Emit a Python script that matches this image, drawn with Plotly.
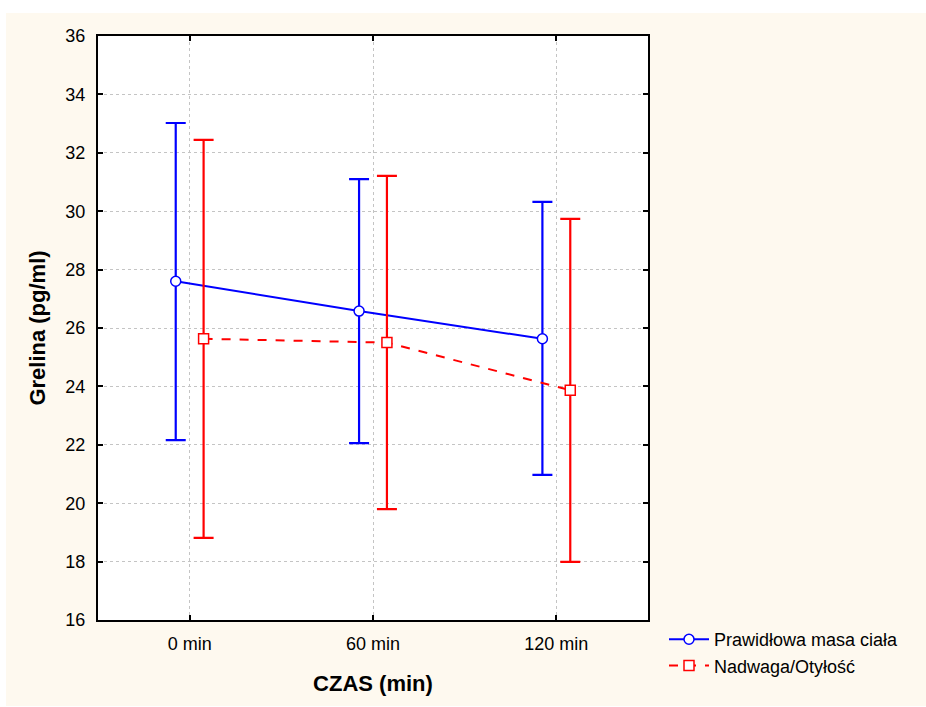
import plotly.graph_objects as go

categories = ["0 min", "60 min", "120 min"]
series_names = ["Prawidłowa masa ciała", "Nadwaga/Otyłość"]
blue_mean = [27.6, 26.58, 25.63]
blue_upper = [33.02, 31.1, 30.32]
blue_lower = [22.16, 22.06, 20.97]
red_mean = [25.63, 25.5, 23.87]
red_upper = [32.44, 31.21, 29.74]
red_lower = [18.81, 19.8, 17.99]
y_ticks = [16, 18, 20, 22, 24, 26, 28, 30, 32, 34, 36]

W, H = 926, 707
L, R, T, B = 98, 648, 36, 620
pw, ph = R - L, B - T
offset = 0.076
base = list(range(len(categories)))

def px_x(p):
    return (p - L) / pw

def px_y(p):
    return (B - p) / ph

fig = go.Figure()

def add_series(name, mean, upper, lower, color, symbol, dash, dx):
    xs = [b + dx for b in base]
    fig.add_trace(go.Scatter(
        x=xs, y=mean, name=name, mode="lines+markers",
        line=dict(color=color, width=2, dash=dash),
        marker=dict(symbol=symbol, size=10, color="white",
                    line=dict(color=color, width=1.5)),
        error_y=dict(type="data", symmetric=False,
                     array=[u - m for u, m in zip(upper, mean)],
                     arrayminus=[m - l for m, l in zip(mean, lower)],
                     color=color, thickness=2.2, width=10),
    ))

add_series(series_names[0], blue_mean, blue_upper, blue_lower, "#0000FF",
           "circle", "solid", -offset)
add_series(series_names[1], red_mean, red_upper, red_lower, "#FF0000",
           "square", "dash", offset)

cream = "#FEF9EF"
fig.update_layout(
    width=W, height=H,
    margin=dict(l=L, r=W - R, t=T, b=H - B, pad=0),
    paper_bgcolor=cream, plot_bgcolor="white",
    font=dict(family="Liberation Sans, Arial, sans-serif", color="black", size=18),
    showlegend=True,
    legend=dict(x=px_x(664), y=px_y(621), xanchor="left", yanchor="top",
                itemwidth=40,
                bgcolor="rgba(0,0,0,0)", font=dict(size=18), tracegroupgap=0),
    shapes=[
        dict(type="rect", xref="paper", yref="paper", x0=px_x(-5), x1=px_x(W + 5),
             y0=px_y(13), y1=px_y(-5), fillcolor="white", line=dict(width=0), layer="below"),
        dict(type="rect", xref="paper", yref="paper", x0=px_x(-5), x1=px_x(6),
             y0=px_y(H + 5), y1=px_y(-5), fillcolor="white", line=dict(width=0), layer="below"),
        dict(type="rect", xref="paper", yref="paper", x0=px_x(-5), x1=px_x(W + 5),
             y0=px_y(H + 5), y1=px_y(706), fillcolor="white", line=dict(width=0), layer="below"),
    ],
)

fig.update_xaxes(
    range=[-0.5, 2.5], tickmode="array", tickvals=base, ticktext=categories,
    showline=True, linecolor="black", linewidth=2, mirror="ticks",
    ticks="inside", ticklen=5, tickwidth=2, tickcolor="black",
    showgrid=True, gridcolor="#C4C4C4", griddash="3px,3px", gridwidth=1,
    zeroline=False, tickfont=dict(size=18), ticklabelstandoff=6,
    title=dict(text="<b>CZAS (min)</b>", font=dict(size=22), standoff=23),
)
fig.update_yaxes(
    range=[16, 36], tickmode="array", tickvals=y_ticks,
    showline=True, linecolor="black", linewidth=2, mirror="ticks",
    ticks="inside", ticklen=5, tickwidth=2, tickcolor="black",
    showgrid=True, gridcolor="#C4C4C4", griddash="3px,3px", gridwidth=1,
    zeroline=False, tickfont=dict(size=18), ticklabelstandoff=7,
    title=dict(text="<b>Grelina (pg/ml)</b>", font=dict(size=22), standoff=14),
)

fig.write_html("out.html")
